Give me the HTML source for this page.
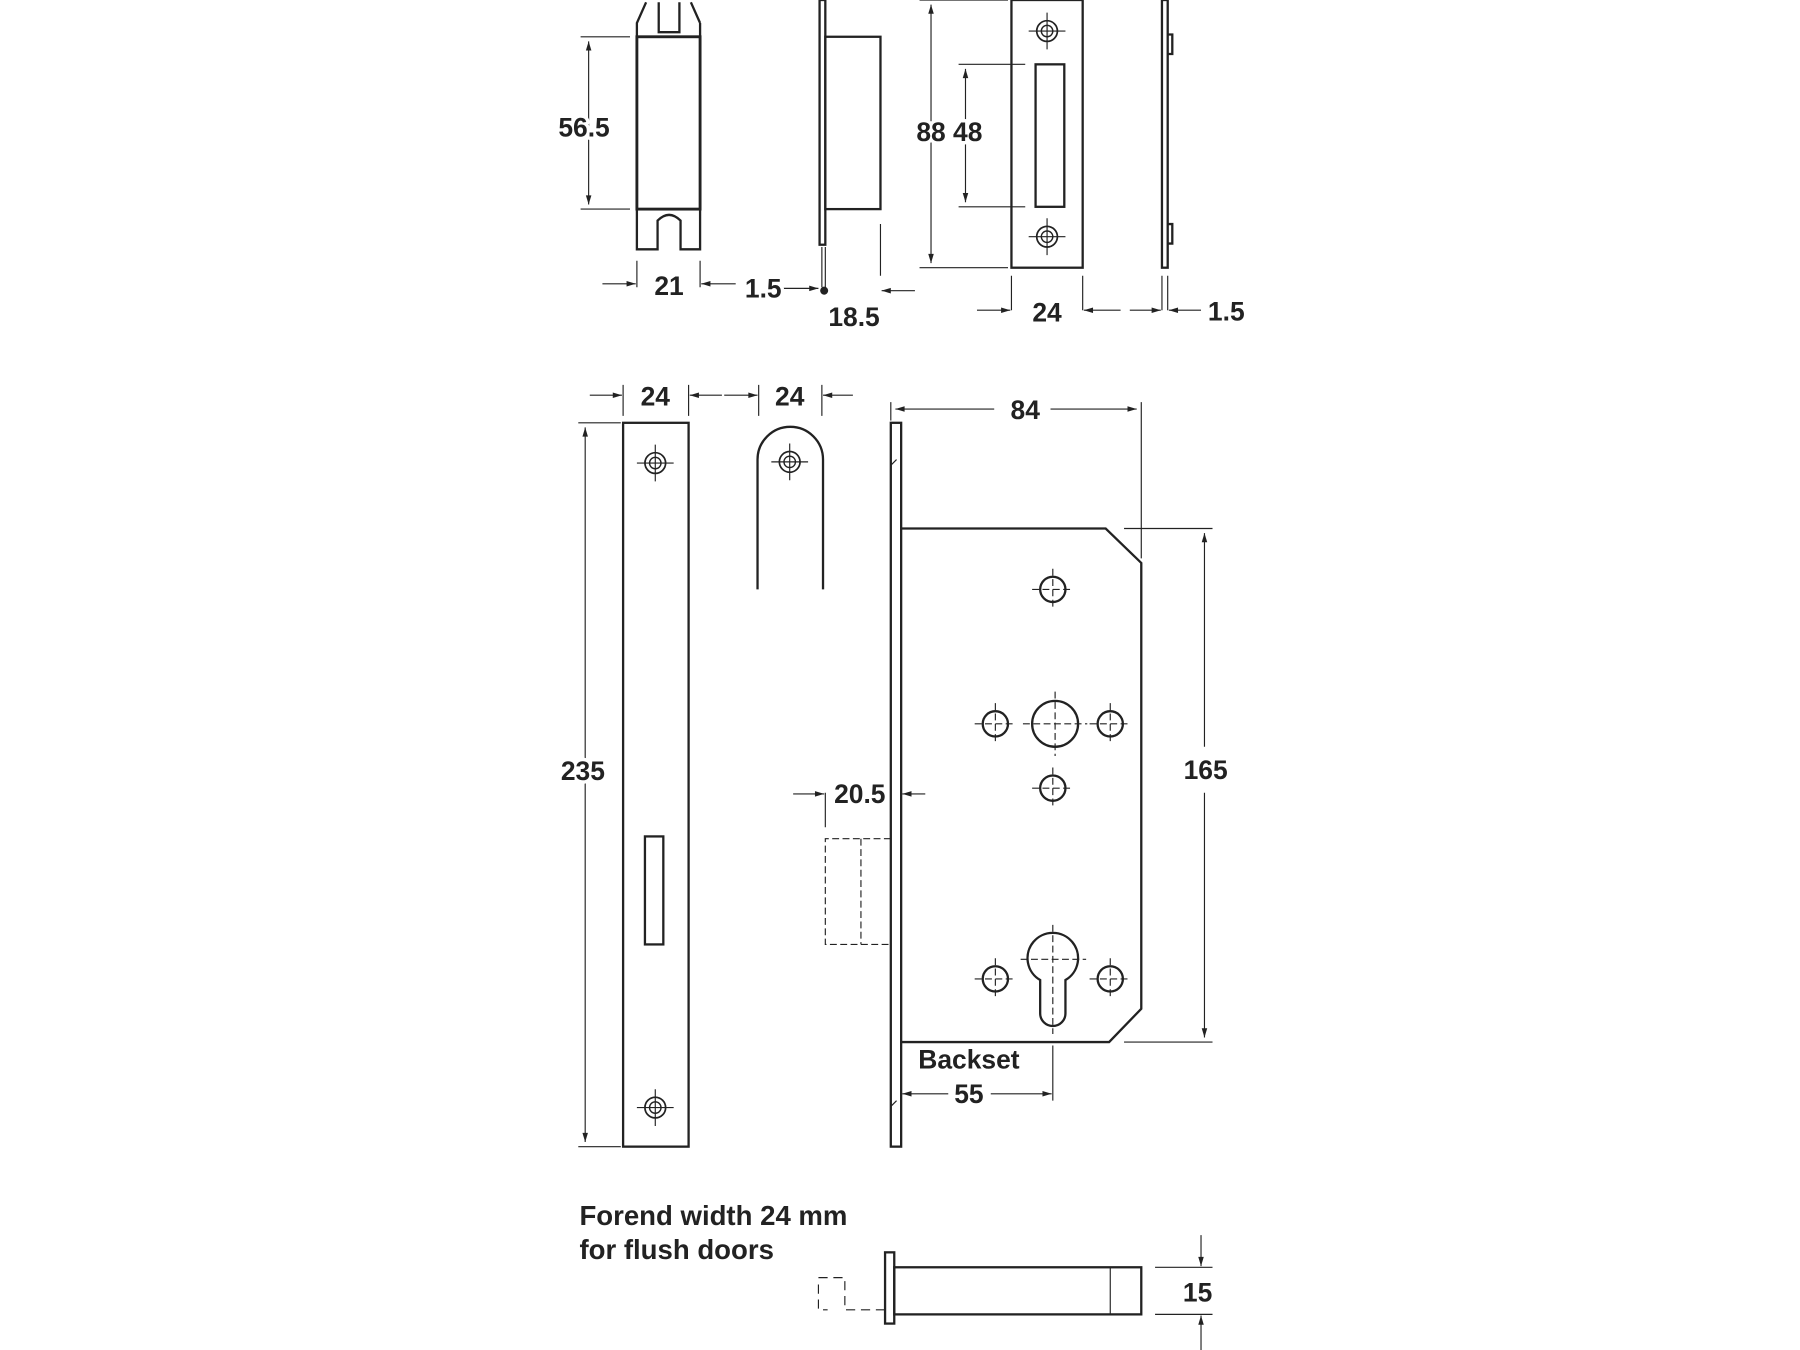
<!DOCTYPE html>
<html><head><meta charset="utf-8"><style>html,body{margin:0;padding:0;background:#fff}svg{display:block}text{font-family:"Liberation Sans",sans-serif;font-weight:bold;font-size:23px;fill:#222;stroke:#fff;stroke-width:6px;paint-order:stroke;stroke-linejoin:round}</style></head>
<body>
<svg width="1800" height="1350" viewBox="0 0 1566 1175" xmlns="http://www.w3.org/2000/svg">
<defs>
<marker id="a" viewBox="0 0 10 10" refX="10" refY="5" markerWidth="12" markerHeight="8" orient="auto-start-reverse" markerUnits="userSpaceOnUse"><path d="M0,2L10,5L0,8z" fill="#222"/></marker>
<g id="h"><circle r="9" fill="none" stroke="#222" stroke-width="1.5"/><circle r="5" fill="none" stroke="#222" stroke-width="1.2"/><path d="M-16,0H16M0,-16V16" stroke="#222" stroke-width="1"/></g>
<g id="c"><circle r="11" fill="none" stroke="#222" stroke-width="2"/><path d="M-18,0H18M0,-18V18" stroke="#222" stroke-width="1" stroke-dasharray="6,3"/></g>
</defs>
<g stroke="#222" fill="none" stroke-width="2">
<path d="M554,217V182H609V217H592V192Q582,182 572,192V217Z"/>
<path d="M554,32V20L562,2M609,20L601,2M609,32V20"/>
<path d="M573,2V28H591V2"/>
<rect x="554" y="32" width="55" height="150" stroke-width="2.5"/>
<g stroke-width="1"><path d="M505,32H548M505,182H548M554,227V250M609,227V250"/><line x1="512" y1="36" x2="512" y2="178" marker-start="url(#a)" marker-end="url(#a)"/>
<line x1="524" y1="247" x2="553" y2="247" marker-end="url(#a)"/><line x1="640" y1="247" x2="610" y2="247" marker-end="url(#a)"/>
<line x1="680" y1="251" x2="712" y2="251" marker-end="url(#a)"/></g>
<circle cx="717" cy="253" r="2.5" fill="#222"/>
<rect x="713" y="0" width="5" height="213"/><rect x="718" y="32" width="48" height="150"/>
<g stroke-width="1"><path d="M766,195V240M715,215V250M718,215V250"/><line x1="796" y1="253" x2="767" y2="253" marker-end="url(#a)"/></g>
<rect x="880" y="0" width="62" height="233"/><rect x="901" y="56" width="25" height="124"/>
<use href="#h" x="911" y="27"/><use href="#h" x="911" y="206"/>
<g stroke-width="1"><path d="M800,0H877M800,233H877M834,56H892M834,180H892M880,240V270M942,240V270M1011,240V270M1016,240V270"/>
<line x1="810" y1="4" x2="810" y2="229" marker-start="url(#a)" marker-end="url(#a)"/>
<line x1="840" y1="60" x2="840" y2="176" marker-start="url(#a)" marker-end="url(#a)"/>
<line x1="850" y1="270" x2="879" y2="270" marker-end="url(#a)"/><line x1="975" y1="270" x2="943" y2="270" marker-end="url(#a)"/>
<line x1="983" y1="270" x2="1010" y2="270" marker-end="url(#a)"/><line x1="1045" y1="270" x2="1017" y2="270" marker-end="url(#a)"/></g>
<rect x="1011" y="0" width="5" height="233"/><path d="M1016,30H1020V47H1016M1016,195H1020V212H1016"/>
<rect x="542" y="368" width="57" height="630"/><rect x="561" y="728" width="16" height="94"/>
<use href="#h" x="570" y="403"/><use href="#h" x="570" y="964"/>
<g stroke-width="1"><path d="M503,368H540M503,998H540M542,335V362M599,335V362M660,335V362M715,335V362"/>
<line x1="509" y1="372" x2="509" y2="994" marker-start="url(#a)" marker-end="url(#a)"/>
<line x1="513" y1="344" x2="541" y2="344" marker-end="url(#a)"/><line x1="628" y1="344" x2="600" y2="344" marker-end="url(#a)"/>
<line x1="630" y1="344" x2="659" y2="344" marker-end="url(#a)"/><line x1="742" y1="344" x2="716" y2="344" marker-end="url(#a)"/></g>
<path d="M659,513V400A28.5,28.5 0 0 1 716,400V513"/><use href="#h" x="687" y="402"/>
<rect x="775" y="368" width="9" height="630"/>
<path d="M784,460H962L993,490V878L965,907H784"/>
<path d="M775,405L780,400M775,963L780,958" stroke-width="1"/>
<use href="#c" x="916" y="513"/><use href="#c" x="866" y="630"/><use href="#c" x="966" y="630"/><use href="#c" x="916" y="686"/><use href="#c" x="866" y="852"/><use href="#c" x="966" y="852"/>
<circle cx="918" cy="630" r="20"/><path d="M890,630H946M918,602V658" stroke-width="1" stroke-dasharray="6,3"/>
<path d="M905,853A22,22 0 1 1 927,853V882A11,11 0 0 1 905,882Z"/><path d="M888,835H945M916,805V900" stroke-width="1" stroke-dasharray="6,3"/>
<g stroke-width="1"><path d="M775,350V366M993,350V486M978,460H1055M978,907H1055M916,910V958M718,690V720"/>
<line x1="779" y1="356" x2="865" y2="356" marker-start="url(#a)"/><line x1="914" y1="356" x2="989" y2="356" marker-end="url(#a)"/>
<line x1="1048" y1="464" x2="1048" y2="650" marker-start="url(#a)"/><line x1="1048" y1="690" x2="1048" y2="903" marker-end="url(#a)"/>
<line x1="690" y1="691" x2="717" y2="691" marker-end="url(#a)"/><line x1="805" y1="691" x2="785" y2="691" marker-end="url(#a)"/>
<line x1="785" y1="952" x2="825" y2="952" marker-start="url(#a)"/><line x1="862" y1="952" x2="915" y2="952" marker-end="url(#a)"/></g>
<path d="M775,730H718V822H775M749,730V822" stroke-width="1" stroke-dasharray="6,3"/>
<rect x="770" y="1090" width="8" height="62"/><rect x="778" y="1103" width="215" height="41"/><path d="M966,1103V1144" stroke-width="1"/>
<path d="M770,1140H735V1112H712M712,1118V1140H720" stroke-width="1" stroke-dasharray="8,5"/>
<g stroke-width="1"><path d="M1005,1103H1055M1005,1144H1055"/><line x1="1045" y1="1075" x2="1045" y2="1102" marker-end="url(#a)"/><line x1="1045" y1="1175" x2="1045" y2="1145" marker-end="url(#a)"/></g>
</g>
<g text-anchor="middle" dominant-baseline="central">
<text x="508" y="111">56.5</text><text x="582" y="249">21</text><text x="664" y="251">1.5</text><text x="743" y="276">18.5</text>
<text x="826" y="115">88 48</text><text x="911" y="272">24</text><text x="1067" y="271">1.5</text>
<text x="570" y="345">24</text><text x="687" y="345">24</text><text x="892" y="357">84</text>
<text x="507" y="671">235</text><text x="1049" y="670">165</text><text x="748" y="691">20.5</text>
<text x="843" y="922">Backset</text><text x="843" y="952">55</text><text x="1042" y="1125">15</text>
</g>
<text x="504" y="1066" style="font-size:24px">Forend width 24 mm</text><text x="504" y="1096" style="font-size:24px">for flush doors</text>
</svg>
</body></html>
